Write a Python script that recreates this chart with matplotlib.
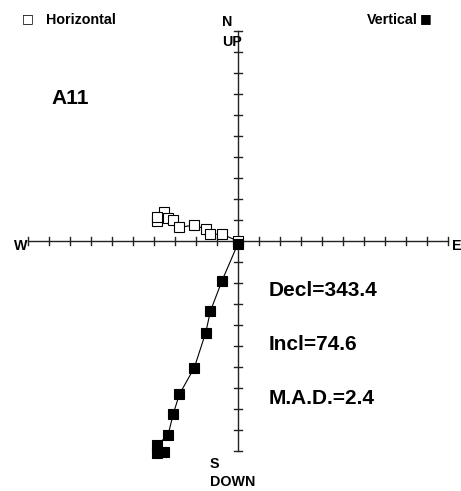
import matplotlib
matplotlib.use("Agg")
import matplotlib.pyplot as plt

# Orthogonal (Zijderveld) projection of demagnetization steps, NRM first.
# Units are plot divisions (one tick = one unit).
east = [-3.84, -3.52, -3.84, -3.33, -3.08, -2.79, -2.08, -1.54, -1.31, -0.76, 0.0]
north = [0.95, 1.40, 1.16, 1.11, 1.00, 0.65, 0.76, 0.56, 0.32, 0.32, 0.0]
up = [-10.11, -10.03, -9.71, -9.24, -8.22, -7.30, -6.03, -4.37, -3.33, -1.89, -0.12]

sample_name = "A11"
decl = 343.4
incl = 74.6
mad = 2.4

W, H = 461, 491
fig = plt.figure(figsize=(W / 100, H / 100), dpi=100)
ax = fig.add_axes([0, 0, 1, 1])
ax.set_axis_off()

# origin of the cross sits at pixel (238, 241), 21 px per division
ox, oy, unit = 238, 241, 21.0
ax.set_xlim(-ox / unit, (W - ox) / unit)
ax.set_ylim(-(H - oy) / unit, oy / unit)

FONT = "Liberation Sans"
axis_col = "#222222"

# axes cross with ticks
ax.plot([-10, 10], [0, 0], color=axis_col, lw=1.0, zorder=1)
ax.plot([0, 0], [-10, 10], color=axis_col, lw=1.0, zorder=1)
tick = 0.19
for k in range(-10, 11):
    if k == 0:
        continue
    ax.plot([k, k], [-tick, tick], color=axis_col, lw=1.0, zorder=1)
    ax.plot([-tick, tick], [k, k], color=axis_col, lw=1.0, zorder=1)

# horizontal projection (open) and vertical projection (filled)
ax.plot(east, north, color="black", lw=0.8, marker="s", ms=6.5,
        mfc="white", mec="black", mew=0.8, zorder=3)
ax.plot(east, up, color="black", lw=0.8, marker="s", ms=6.5,
        mfc="black", mec="black", mew=0.8, zorder=4)


def label(x, y, s, size=10.3, ha="left", va="center"):
    fig.text(x / W, 1 - y / H, s, fontsize=size, fontweight="bold",
             family=FONT, ha=ha, va=va)


label(46, 20, "Horizontal")
label(418, 20, "Vertical", ha="right")
fig.text(28 / W, 1 - 19 / H, "\u25A1", fontsize=9, family="DejaVu Sans",
         ha="center", va="center")
fig.text(425.5 / W, 1 - 19 / H, "\u25A0", fontsize=9, family="DejaVu Sans",
         ha="center", va="center")

label(222, 22, "N")
label(222, 42, "UP")
label(210, 464, "S")
label(210, 482, "DOWN")
label(14, 246, "W")
label(452, 246, "E")

label(51, 98, sample_name, size=15)
label(269, 290, f"Decl={decl}", size=15)
label(269, 345, f"Incl={incl}", size=15)
label(269, 399, f"M.A.D.={mad}", size=15)

fig.savefig("out.png", dpi=100)
